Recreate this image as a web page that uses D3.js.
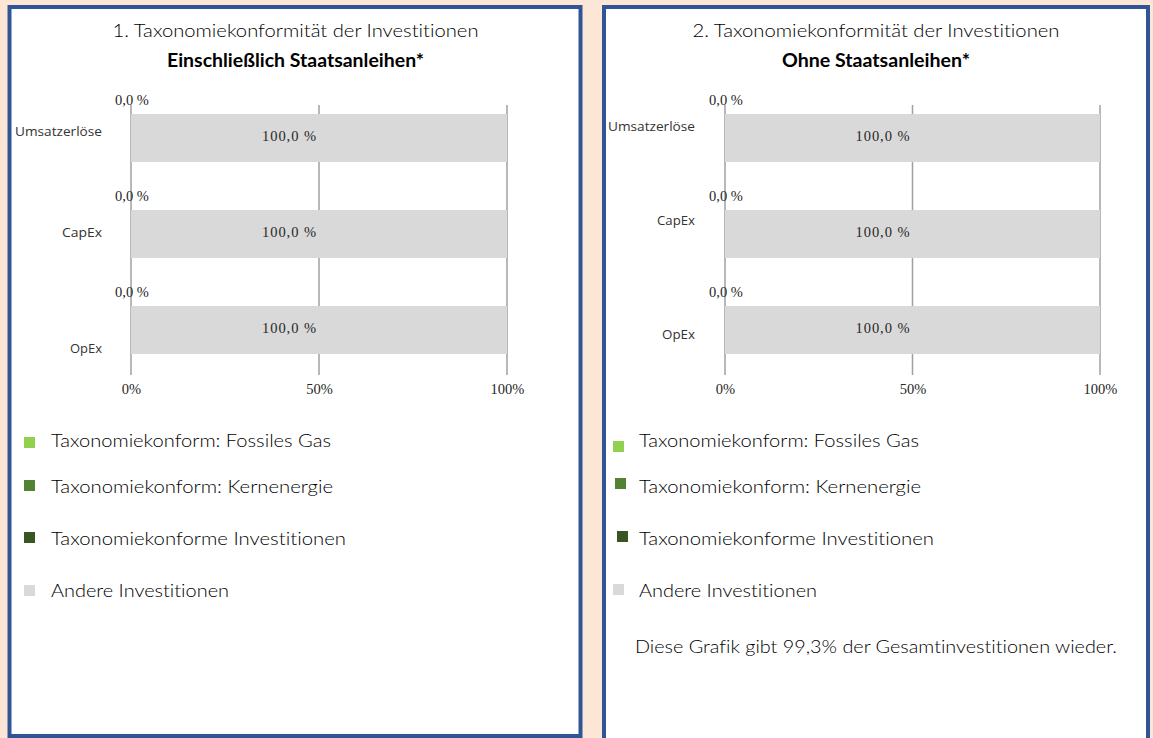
<!DOCTYPE html>
<html><head><meta charset="utf-8">
<script src="https://cdn.jsdelivr.net/npm/d3@7"></script>
<style>body{margin:0;background:#FCE6D6}svg{display:block}text{font-variant-ligatures:none}</style>
</head><body>
<script>
// ---------- data ----------
const categories = ["Umsatzerlöse", "CapEx", "OpEx"];
// Chart 1: including sovereign bonds
const gas1 = [0, 0, 0];
const nuclear1 = [0, 0, 0];
const aligned1 = [0, 0, 0];
const other1 = [100, 100, 100];
// Chart 2: excluding sovereign bonds
const gas2 = [0, 0, 0];
const nuclear2 = [0, 0, 0];
const aligned2 = [0, 0, 0];
const other2 = [100, 100, 100];
const tickValues = [0, 50, 100];
const tickLabels = ["0%", "50%", "100%"];
const seriesKeys = ["gas", "nuclear", "aligned", "other"];
const legendLabels = ["Taxonomiekonform: Fossiles Gas", "Taxonomiekonform: Kernenergie", "Taxonomiekonforme Investitionen", "Andere Investitionen"];
const legendColors = ["#92D050", "#548235", "#375623", "#D9D9D9"];
const titles = ["1. Taxonomiekonformität der Investitionen", "2. Taxonomiekonformität der Investitionen"];
const subtitles = ["Einschließlich Staatsanleihen*", "Ohne Staatsanleihen*"];
const footnote = "Diese Grafik gibt 99,3% der Gesamtinvestitionen wieder.";

// ---------- layout ----------
const W = 1153, H = 738;
const svg = d3.select("body").append("svg").attr("width", W).attr("height", H);
svg.append("rect").attr("width", W).attr("height", H).attr("fill", "#FCE6D6");

const de = d3.formatLocale({decimal: ",", thousands: ".", grouping: [3], currency: ["", " €"]});
const fmt1 = de.format(".1f");

const panels = [
  {box: [9.5, 7, 571, 729], xr: [131, 507], cx: 295.5,
   data: [gas1, nuclear1, aligned1, other1],
   titleLen: 366, subLen: 257,
   catOffset: [-7, -2, 18], catLens: [87, 40, 32], catGap: 29,
   legX: [24, 24, 24, 24], legSqY: [437, 480, 532, 585], legTextX: 51},
  {box: [604, 7, 544, 760], xr: [725, 1100], cx: 876,
   data: [gas2, nuclear2, aligned2, other2],
   titleLen: 367, subLen: 188,
   catOffset: [-12, -14, 4], catLens: [87, 38, 33], catGap: 30,
   legX: [613, 615, 617, 613], legSqY: [441, 478, 531, 584], legTextX: 639}
];
const legTextY = [440, 486, 538, 590];
const legLens = [280, 282, 295, 178];
const sans = "Lato, 'Open Sans', sans-serif";
const catFont = "'Open Sans', Lato, sans-serif";
const serif = "'Liberation Serif', 'DejaVu Serif', serif";

panels.forEach((p, pi) => {
  const g = svg.append("g");
  g.append("rect").attr("x", p.box[0]).attr("y", p.box[1]).attr("width", p.box[2]).attr("height", p.box[3])
    .attr("fill", "#fff").attr("stroke", "#2F5597").attr("stroke-width", 4);

  g.append("text").attr("x", p.cx).attr("y", 37).attr("text-anchor", "middle")
    .attr("font-family", sans).attr("font-weight", 300).attr("font-size", 18).attr("fill", "#000")
    .attr("textLength", p.titleLen).attr("lengthAdjust", "spacingAndGlyphs").text(titles[pi]);
  g.append("text").attr("x", p.cx).attr("y", 67).attr("text-anchor", "middle")
    .attr("font-family", sans).attr("font-weight", 700).attr("font-size", 18).attr("fill", "#000")
    .attr("textLength", p.subLen).attr("lengthAdjust", "spacingAndGlyphs").text(subtitles[pi]);

  const rows = categories.map((c, i) => {
    const r = {cat: c};
    seriesKeys.forEach((k, j) => r[k] = p.data[j][i]);
    return r;
  });
  const x = d3.scaleLinear().domain([0, 100]).range(p.xr);
  const y = d3.scaleBand().domain(categories).range([90, 378]).paddingInner(0.5).paddingOuter(0.25);
  const color = d3.scaleOrdinal().domain(seriesKeys).range(legendColors);

  // gridlines
  g.append("g").selectAll("line").data(tickValues).join("line")
    .attr("x1", d => x(d)).attr("x2", d => x(d)).attr("y1", 105).attr("y2", 375)
    .attr("stroke", "#A0A0A0").attr("stroke-width", 1.5);

  // stacked bars
  const stacked = d3.stack().keys(seriesKeys)(rows);
  g.append("g").selectAll("g").data(stacked).join("g").attr("fill", d => color(d.key))
    .selectAll("rect").data(d => d).join("rect")
    .attr("x", d => x(d[0])).attr("width", d => x(d[1]) - x(d[0]))
    .attr("y", d => y(d.data.cat)).attr("height", y.bandwidth());

  // value labels: aligned total (above bar) and other (inside)
  g.append("g").selectAll("text").data(rows).join("text")
    .attr("x", d => x(d.gas + d.nuclear + d.aligned) + 1).attr("y", d => y(d.cat) - 9)
    .attr("text-anchor", "middle").attr("font-family", serif).attr("font-weight", 400)
    .attr("font-size", 14.5).attr("fill", "#262626")
    .text(d => fmt1(d.gas + d.nuclear + d.aligned) + " %");
  g.append("g").selectAll("text").data(rows).join("text")
    .attr("x", d => x(d.gas + d.nuclear + d.aligned + d.other / 2) - 30).attr("y", d => y(d.cat) + y.bandwidth() / 2 + 3)
    .attr("text-anchor", "middle").attr("font-family", serif).attr("font-weight", 400)
    .attr("font-size", 14.5).attr("fill", "#262626")
    .attr("textLength", 54).attr("lengthAdjust", "spacing")
    .text(d => fmt1(d.other) + " %");

  // category labels
  g.append("g").selectAll("text").data(categories).join("text")
    .attr("x", x(0) - p.catGap).attr("y", (d, i) => y(d) + y.bandwidth() / 2 + p.catOffset[i] + 5)
    .attr("text-anchor", "end").attr("font-family", catFont).attr("font-weight", 400)
    .attr("font-size", 13).attr("fill", "#333")
    .attr("textLength", (d, i) => p.catLens[i]).attr("lengthAdjust", "spacingAndGlyphs")
    .text(d => d);

  // x axis
  const ax = g.append("g").attr("transform", "translate(0,375)")
    .call(d3.axisBottom(x).tickValues(tickValues).tickSize(0).tickPadding(9).tickFormat((d, i) => tickLabels[i]));
  ax.select(".domain").remove();
  ax.selectAll("text").attr("font-family", serif).attr("font-weight", 400)
    .attr("font-size", 14.5).attr("fill", "#262626");

  // legend
  const lg = g.append("g");
  legendLabels.forEach((lab, i) => {
    lg.append("rect").attr("x", p.legX[i]).attr("y", p.legSqY[i]).attr("width", 11).attr("height", 11).attr("fill", legendColors[i]);
    lg.append("text").attr("x", p.legTextX).attr("y", legTextY[i] + 6.5)
      .attr("font-family", sans).attr("font-weight", 300).attr("font-size", 18).attr("fill", "#000")
      .attr("textLength", legLens[i]).attr("lengthAdjust", "spacingAndGlyphs").text(lab);
  });
  if (pi === 1) {
    g.append("text").attr("x", 635).attr("y", 652.5)
      .attr("font-family", sans).attr("font-weight", 300).attr("font-size", 18).attr("fill", "#000")
      .attr("textLength", 482).attr("lengthAdjust", "spacingAndGlyphs").text(footnote);
  }
});
</script>
</body></html>
